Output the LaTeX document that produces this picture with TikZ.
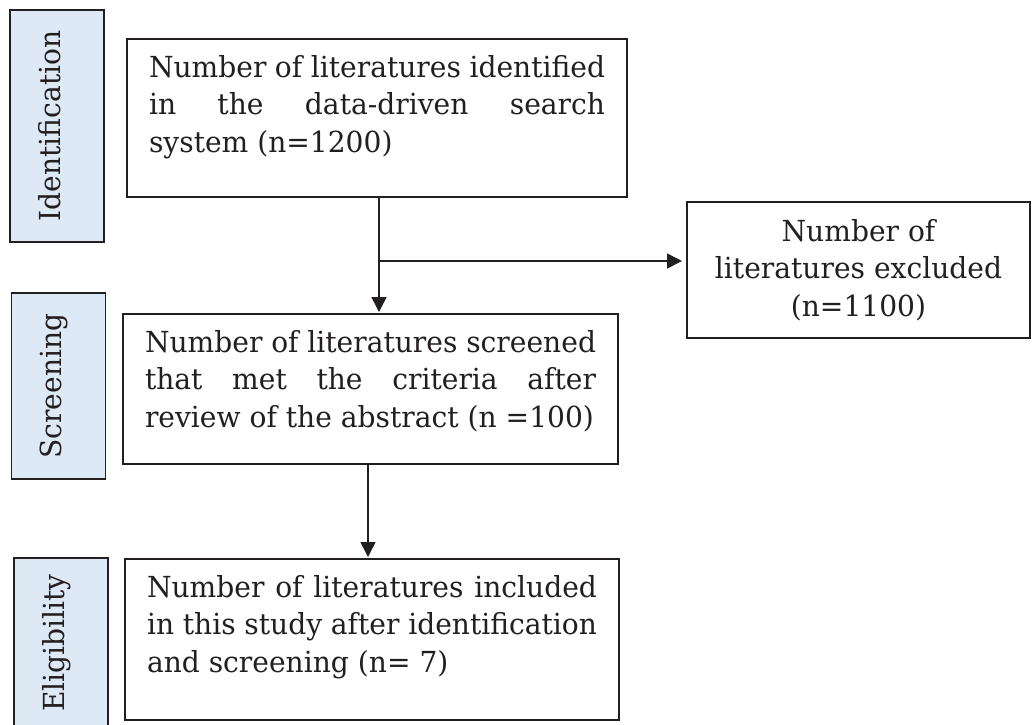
\documentclass[tikz,border=0pt]{standalone}
\usepackage{fontspec}
\setmainfont[FakeStretch=0.97]{DejaVu Serif}
\usetikzlibrary{arrows.meta}
\definecolor{linec}{HTML}{231F20}
\definecolor{labfill}{HTML}{DEE9F6}
\definecolor{txt}{HTML}{231F20}
\newcommand{\jline}[1]{\makebox[\linewidth][s]{#1}\par}
\begin{document}
\begin{tikzpicture}[x=1pt,y=-1pt,
  mainbox/.style={draw=linec, line width=1.5pt, anchor=north west, inner xsep=22pt, inner ysep=0pt, outer sep=0pt, text=txt, font=\fontsize{29}{37.5}\selectfont},
  exbox/.style={draw=linec, line width=1.5pt, anchor=north west, inner sep=0pt, outer sep=0pt, align=center, text=txt, font=\fontsize{29}{37.5}\selectfont},
  lab/.style={draw=linec, fill=labfill, line width=1.3pt, inner sep=0pt, outer sep=0pt, text height=50pt, text depth=44pt, rotate=90, text=txt, font=\fontsize{29}{37.5}\selectfont},
  conn/.style={draw=linec, line width=1.5pt, shorten >=2pt, -{Triangle[length=15pt,width=15pt]}}
]
\useasboundingbox (0,0) rectangle (1032,724);
\node[lab, minimum width=232pt] (lid) at (57,126) {Identification};
\node[lab, minimum width=186pt] (lscr) at (58.5,386) {Screening};
\node[lab, minimum width=170pt] (lel) at (61,643) {Eligibility};
\node[mainbox] (id) at (127,39) {\parbox[c][158pt][t]{456pt}{\vspace*{16pt}\jline{Number of literatures identified}\jline{in the data-driven search}system (n=1200)}};
\node[mainbox] (scr) at (123,314) {\parbox[c][150pt][t]{451pt}{\vspace*{16pt}\jline{Number of literatures screened}\jline{that met the criteria after}review of the abstract (n =100)}};
\node[mainbox] (elig) at (125,559) {\parbox[c][161pt][t]{450pt}{\vspace*{16pt}\jline{Number of literatures included}\jline{in this study after identification}and screening (n= 7)}};
\node[exbox, minimum width=343pt, minimum height=136pt] (exc) at (687,202) {Number of\\literatures excluded\\(n=1100)};
\coordinate (j1) at (379,261);
\coordinate (j2) at (368,0);
\draw[conn] (id.south -| j1) -- (scr.north -| j1);
\draw[conn, shorten >=5pt] (j1) -- (exc.west |- j1);
\draw[conn] (scr.south -| j2) -- (elig.north -| j2);
\end{tikzpicture}
\end{document}
